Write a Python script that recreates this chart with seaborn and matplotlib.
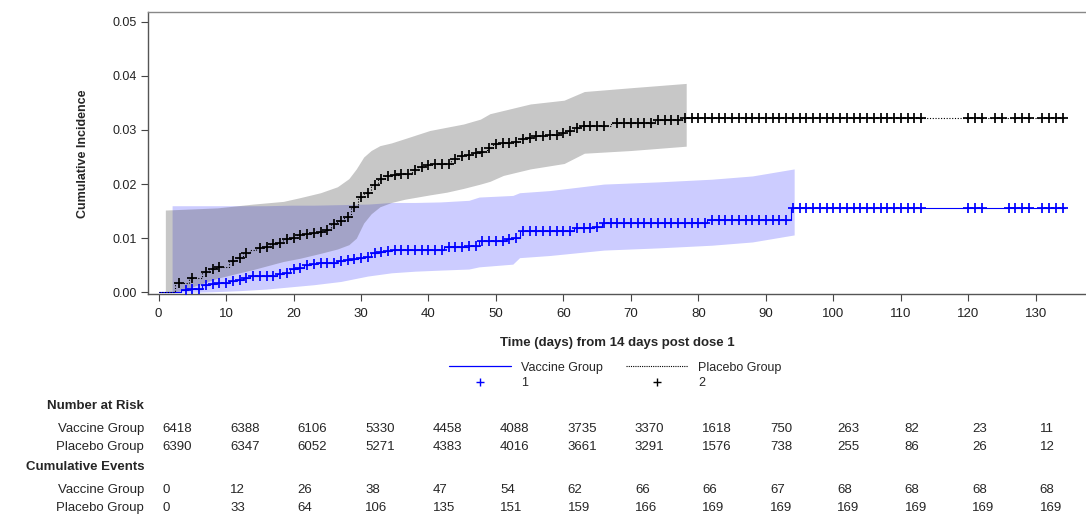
import numpy as np
import matplotlib
matplotlib.use("Agg")
import matplotlib.pyplot as plt
import matplotlib.transforms as mtransforms
from matplotlib.lines import Line2D
from matplotlib import font_manager as fm
import seaborn as sns

# ---------------- data ----------------
placebo_step_days = [0, 2.5, 4.5, 6.5, 7.5, 8.5, 10.5, 11.5, 12.5, 13.5, 14.5, 15.5, 16.5, 17.5, 18.5,
                     19.5, 20.5, 21.5, 22.5, 23.5, 24.5, 25.5, 26.5, 27.5, 28.5, 29.5, 30.5, 31.5, 32.5,
                     33.5, 34.5, 35.5, 37.5, 38.5, 39.5, 40.5, 43.3, 44.3, 45.3, 46.5, 47.5, 48.7, 49.5,
                     50.5, 52.5, 53.5, 54.5, 55.5, 57.3, 59.3, 60.3, 61.5, 62.5, 67.0, 73.5, 77.8, 134.3]
placebo_step_vals = [0.0, 0.0018, 0.0027, 0.0038, 0.0043, 0.0047, 0.0058, 0.0064, 0.0072, 0.0079, 0.0081,
                     0.0084, 0.0089, 0.0091, 0.0098, 0.0100, 0.0105, 0.0108, 0.0109, 0.0111, 0.0115, 0.0126,
                     0.0132, 0.0139, 0.0157, 0.0177, 0.0184, 0.0198, 0.0209, 0.0214, 0.0216, 0.0218, 0.0226,
                     0.0232, 0.0236, 0.0238, 0.0247, 0.0252, 0.0254, 0.0257, 0.0260, 0.0266, 0.0274, 0.0275,
                     0.0278, 0.0283, 0.0286, 0.0288, 0.0291, 0.0294, 0.0298, 0.0304, 0.0308, 0.0313, 0.0318,
                     0.0323, 0.0323]

vaccine_step_days = [0, 3.3, 4.3, 5.3, 6.5, 7.5, 8.5, 9.5, 10.5, 11.5, 12.5, 13.5, 16.5, 17.5, 18.5, 19.5,
                     20.5, 21.5, 22.5, 23.5, 25.5, 26.5, 27.5, 28.5, 29.5, 30.5, 31.5, 32.5, 33.5, 34.5,
                     42.3, 43.3, 46.0, 47.5, 51.5, 52.5, 53.5, 61.5, 62.5, 64.5, 65.7, 81.3, 93.8, 134.3]
vaccine_step_vals = [0.0, 0.0004, 0.0006, 0.0007, 0.0013, 0.0015, 0.0017, 0.0018, 0.0021, 0.0023, 0.0026,
                     0.0030, 0.0031, 0.0034, 0.0035, 0.0043, 0.0045, 0.0050, 0.0052, 0.0054, 0.0055, 0.0057,
                     0.0060, 0.0062, 0.0063, 0.0065, 0.0073, 0.0075, 0.0077, 0.0079, 0.0083, 0.0084, 0.0086,
                     0.0094, 0.0098, 0.0100, 0.0114, 0.0118, 0.0119, 0.0121, 0.0128, 0.0134, 0.0155, 0.0155]

placebo_censor_days = [3, 5, 7, 8, 9, 11, 12, 13, 15, 16, 17, 18, 19, 20, 21, 22, 23, 24, 25, 26, 27, 28,
                       29, 30, 31, 32, 33, 34, 35, 36, 37, 38, 39, 40, 41, 42, 43, 44, 45, 46, 47, 48, 49,
                       50, 51, 52, 53, 54, 55, 56, 57, 58, 59, 60, 61, 62, 63, 64, 65, 66, 68, 69, 70, 71,
                       72, 73, 74, 75, 76, 77, 78, 79, 80, 81, 82, 83, 84, 85, 86, 87, 88, 89, 90, 91, 92,
                       93, 94, 95, 96, 97, 98, 99, 100, 101, 102, 103, 104, 105, 106, 107, 108, 109, 110,
                       111, 112, 113, 120, 121, 122, 124, 125, 127, 128, 129, 131, 132, 133, 134]
vaccine_censor_days = [4, 5, 6, 7, 8, 9, 10, 11, 12, 13, 14, 15, 16, 17, 18, 19, 20, 21, 22, 23, 24, 25,
                       26, 27, 28, 29, 30, 31, 32, 33, 34, 35, 36, 37, 38, 39, 40, 41, 42, 43, 44, 45, 46,
                       47, 48, 49, 50, 51, 52, 53, 54, 55, 56, 57, 58, 59, 60, 61, 62, 63, 64, 65, 66, 67,
                       68, 69, 70, 71, 72, 73, 74, 75, 76, 77, 78, 79, 80, 81, 82, 83, 84, 85, 86, 87, 88,
                       89, 90, 91, 92, 93, 94, 95, 96, 97, 98, 99, 100, 101, 102, 103, 104, 105, 106, 107,
                       108, 109, 110, 111, 112, 113, 120, 121, 122, 126, 127, 128, 129, 131, 132, 133, 134]

vaccine_band_days = [2, 5, 8, 12, 16, 19.5, 23, 27, 31, 34.5, 38, 41.8, 46, 47.5, 52.5, 53.5, 58, 66, 74,
                     82, 88, 94.2]
vaccine_band_upper = [0.0160, 0.0160, 0.0160, 0.0160, 0.0160, 0.0161, 0.0161, 0.0162, 0.0163, 0.0166,
                      0.0166, 0.0167, 0.0170, 0.0176, 0.0179, 0.0184, 0.0188, 0.0200, 0.0204, 0.0209,
                      0.0215, 0.0228]
vaccine_band_lower = [0.0, 0.0, 0.0001, 0.0003, 0.0006, 0.0010, 0.0014, 0.0020, 0.0030, 0.0036, 0.0039,
                      0.0041, 0.0043, 0.0047, 0.0052, 0.0064, 0.0068, 0.0078, 0.0082, 0.0087, 0.0093,
                      0.0106]

placebo_band_days = [1, 3, 5, 8.7, 11, 14, 18.5, 21, 24, 26.5, 28.2, 29.3, 30.4, 31.5, 32.8, 34.5, 36.5,
                     40.2, 42.7, 45.2, 47.7, 49.1, 51.1, 55.1, 60.1, 63.1, 70, 78.2]
placebo_band_upper = [0.0152, 0.0153, 0.0154, 0.0156, 0.0159, 0.0163, 0.0168, 0.0175, 0.0184, 0.0195,
                      0.0210, 0.0228, 0.0250, 0.0262, 0.0271, 0.0276, 0.0284, 0.0299, 0.0305, 0.0311,
                      0.0320, 0.0330, 0.0336, 0.0348, 0.0355, 0.0371, 0.0378, 0.0386]
placebo_band_lower = [0.0, 0.0002, 0.0010, 0.0026, 0.0033, 0.0042, 0.0057, 0.0063, 0.0072, 0.0080,
                      0.0088, 0.0100, 0.0128, 0.0145, 0.0158, 0.0166, 0.0172, 0.0180, 0.0185, 0.0192,
                      0.0200, 0.0205, 0.0216, 0.0228, 0.0238, 0.0257, 0.0262, 0.0270]

table_days = [0, 10, 20, 30, 40, 50, 60, 70, 80, 90, 100, 110, 120, 130]
risk_vaccine = [6418, 6388, 6106, 5330, 4458, 4088, 3735, 3370, 1618, 750, 263, 82, 23, 11]
risk_placebo = [6390, 6347, 6052, 5271, 4383, 4016, 3661, 3291, 1576, 738, 255, 86, 26, 12]
events_vaccine = [0, 12, 26, 38, 47, 54, 62, 66, 66, 67, 68, 68, 68, 68]
events_placebo = [0, 33, 64, 106, 135, 151, 159, 166, 169, 169, 169, 169, 169, 169]

x_ticks = [0, 10, 20, 30, 40, 50, 60, 70, 80, 90, 100, 110, 120, 130]
y_ticks = [0.00, 0.01, 0.02, 0.03, 0.04, 0.05]

# ---------------- style ----------------
sns.set_theme(style="white")
names = {f.name for f in fm.fontManager.ttflist}
REG = "Liberation Sans" if "Liberation Sans" in names else "DejaVu Sans"
NARROW = "Liberation Sans Narrow" if "Liberation Sans Narrow" in names else REG
plt.rcParams["font.family"] = [REG, "DejaVu Sans"]

W, H = 1086, 518
fig = plt.figure(figsize=(W / 100, H / 100), dpi=100)
ax = fig.add_axes([148 / W, 1 - 294.3 / H, (1086 - 148) / W, (294.3 - 12.3) / H])

BLUE = "#0000ff"

# bands
ax.fill_between(vaccine_band_days, vaccine_band_lower, vaccine_band_upper,
                color=BLUE, alpha=0.2, linewidth=0, zorder=1)
ax.fill_between(placebo_band_days, placebo_band_lower, placebo_band_upper,
                color="#464646", alpha=0.3, linewidth=0, zorder=2)

# step curves
sns.lineplot(x=vaccine_step_days, y=vaccine_step_vals, drawstyle="steps-post", estimator=None,
             sort=False, color=BLUE, linewidth=0.8, ax=ax, zorder=3)
sns.lineplot(x=placebo_step_days, y=placebo_step_vals, drawstyle="steps-post", estimator=None,
             sort=False, color="black", linewidth=0.8, linestyle=(0, (1, 1.5)), ax=ax, zorder=3)


def at(days, sd, sv):
    sd = np.asarray(sd)
    sv = np.asarray(sv)
    idx = np.searchsorted(sd, np.asarray(days, dtype=float), side="right") - 1
    return sv[idx]


sns.scatterplot(x=vaccine_censor_days, y=at(vaccine_censor_days, vaccine_step_days, vaccine_step_vals),
                marker="+", color=BLUE, s=42, linewidth=1.25, ax=ax, zorder=4)
sns.scatterplot(x=placebo_censor_days, y=at(placebo_censor_days, placebo_step_days, placebo_step_vals),
                marker="+", color="black", s=42, linewidth=1.25, ax=ax, zorder=4)

# axes
px_per_day = 6.747
ax.set_xlim(-(158.6 - 148) / px_per_day, (1086 - 158.6) / px_per_day)
ax.set_ylim(-0.00037, 0.05174)
ax.set_xticks(x_ticks)
ax.set_yticks(y_ticks)
ax.set_yticklabels([f"{v:.2f}" for v in y_ticks], fontsize=9, family=REG, color="#222222")
ax.set_xticklabels([str(v) for v in x_ticks], fontsize=9.5, family=NARROW, color="#222222")
ax.tick_params(axis="y", direction="out", length=5, width=0.8, color="#444444", pad=3, left=True)
ax.tick_params(axis="x", direction="out", length=5, width=0.8, color="#444444", pad=5, bottom=True)
for side in ["left", "bottom", "top"]:
    ax.spines[side].set_color("#555555")
    ax.spines[side].set_linewidth(1.0)
ax.spines["top"].set_color("#888888")
ax.spines["right"].set_visible(False)
ax.grid(False)
ax.set_xlabel("Time (days) from 14 days post dose 1", fontsize=9.5, fontweight="bold",
              family=NARROW, labelpad=12)
ax.set_ylabel("Cumulative Incidence", fontsize=9, fontweight="bold", family=REG, labelpad=17)

# legend
handles = [Line2D([], [], color=BLUE, lw=0.9),
           Line2D([], [], color=BLUE, marker="+", ls="None", markersize=6, mew=1.0),
           Line2D([], [], color="black", lw=0.8, ls=(0, (1, 1))),
           Line2D([], [], color="black", marker="+", ls="None", markersize=6, mew=1.0)]
labels = ["Vaccine Group", "1", "Placebo Group", "2"]
fig.legend(handles, labels, ncol=2, loc="center", bbox_to_anchor=(615 / W, 1 - 375.5 / H),
           frameon=False, handlelength=5.0, handletextpad=0.8, columnspacing=1.8,
           labelspacing=0.3, prop={"family": REG, "size": 9})

# risk table
tr = mtransforms.blended_transform_factory(ax.transData, fig.transFigure)
label_x = 144 / W


def fy(py):
    return 1 - py / H


fig.text(label_x, fy(406), "Number at Risk", ha="right", va="center", fontsize=9.5,
         fontweight="bold", family=NARROW)
fig.text(label_x, fy(467), "Cumulative Events", ha="right", va="center", fontsize=9.5,
         fontweight="bold", family=NARROW)
rows = [(429, "Vaccine Group", risk_vaccine), (447, "Placebo Group", risk_placebo),
        (490, "Vaccine Group", events_vaccine), (508, "Placebo Group", events_placebo)]
for py, name, vals in rows:
    fig.text(label_x, fy(py), name, ha="right", va="center", fontsize=9.5, family=NARROW)
    for d, v in zip(table_days, vals):
        ax.text(d + 0.6, fy(py), str(v), transform=tr, ha="left", va="center", fontsize=9.5,
                family=NARROW, clip_on=False)

fig.savefig("out.png", dpi=100)
